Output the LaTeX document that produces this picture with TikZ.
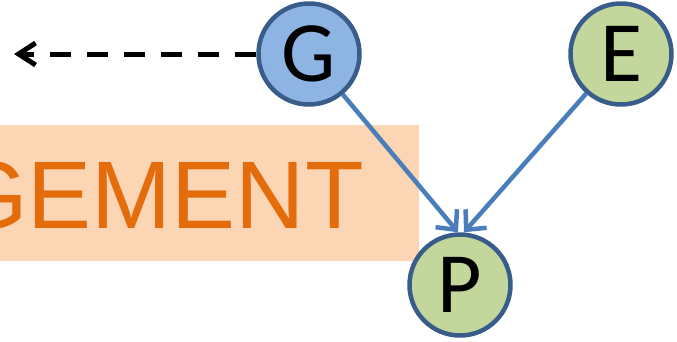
\documentclass[tikz,border=0pt]{standalone}
\usepackage{fontspec}
\setmainfont{Carlito}
\newfontfamily\arialfont{Liberation Sans}
\usetikzlibrary{arrows.meta}
\definecolor{nodeborder}{HTML}{385D8A}
\definecolor{gfill}{HTML}{8EB4E3}
\definecolor{gnfill}{HTML}{C3D69B}
\definecolor{arrowblue}{HTML}{4A7EBB}
\definecolor{boxfill}{HTML}{FCD5B5}
\definecolor{boxtext}{HTML}{E46C0A}
\tikzset{
  var/.style={circle, draw=nodeborder, line width=4.5pt, minimum size=101pt, inner sep=0pt, font=\fontsize{86}{90}\selectfont},
  edge/.style={draw=arrowblue, line width=4.5pt, -{Straight Barb[length=15pt,width=28pt,line width=4.5pt]}},
  dashedge/.style={draw=black, line width=5pt, dash pattern=on 21pt off 16pt, -{Straight Barb[length=17pt,width=22pt,line width=5pt]}}
}
\begin{document}
\begin{tikzpicture}[x=1pt,y=-1pt]
\useasboundingbox (0,0) rectangle (677,341);
% orange box
\node (box) [fill=boxfill, inner sep=0pt, minimum width=439pt, minimum height=136pt] at (199.5,193) {};
\node (word) [anchor=base west, inner sep=0pt, text=boxtext, font=\arialfont\fontsize{96}{100}\selectfont] at (-47,228) {GEMENT};
% nodes
\node (G) [var, fill=gfill] at (309,54) {G};
\node (E) [var, fill=gnfill] at (621,54) {E};
\node (P) [var, fill=gnfill] at (460,285) {P};
\coordinate (out) at (14,54);
% edges
\draw[edge] (G) -- ([xshift=-2pt]P.north);
\draw[edge] (E) -- ([xshift=4pt]P.north);
\draw[dashedge] (G.west) -- (out);
\end{tikzpicture}
\end{document}
